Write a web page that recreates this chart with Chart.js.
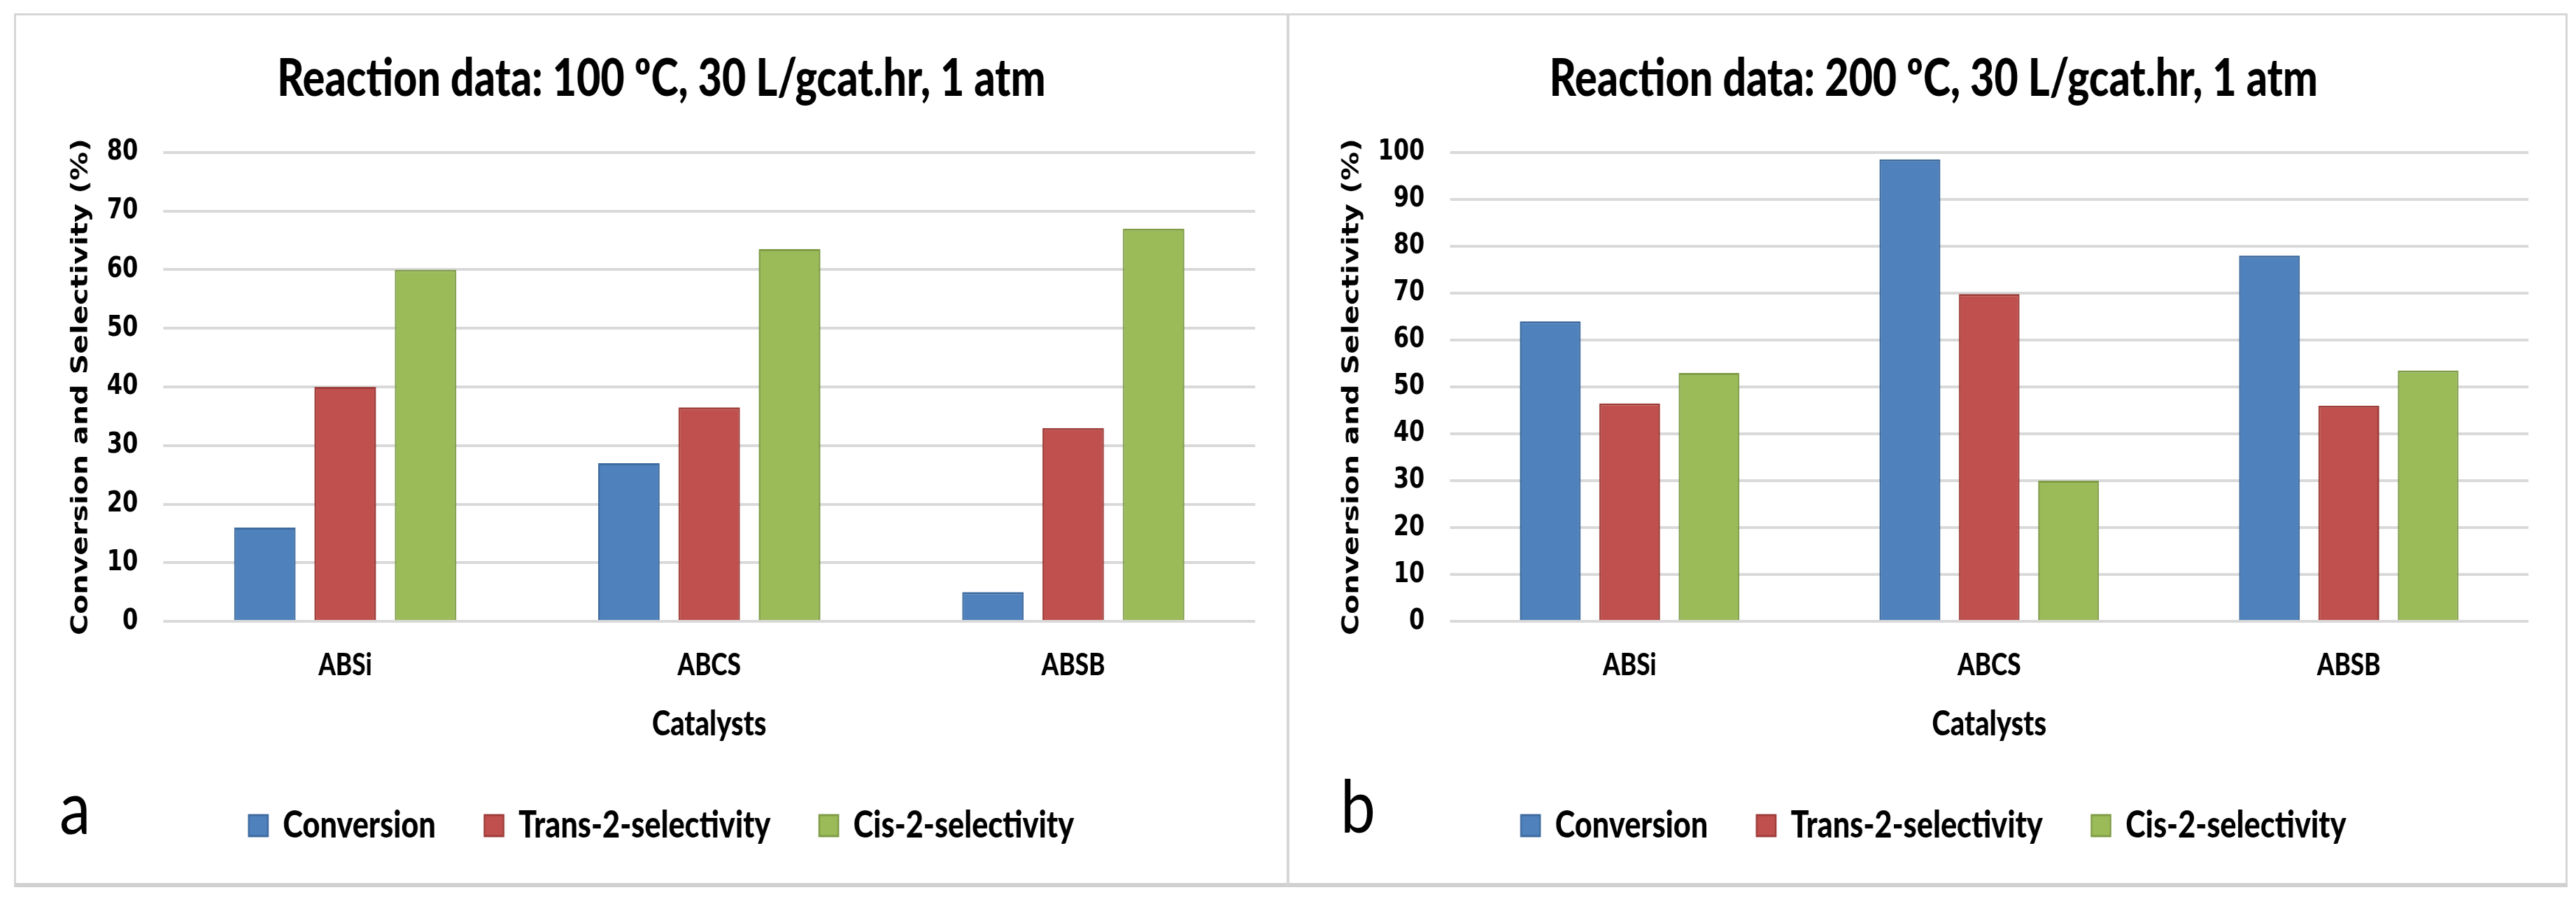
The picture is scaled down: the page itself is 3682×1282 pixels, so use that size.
<!DOCTYPE html>
<html>
<head>
<meta charset="utf-8">
<script src="https://cdn.jsdelivr.net/npm/chart.js@4.4.1/dist/chart.umd.min.js"></script>
<style>
  html, body { margin: 0; padding: 0; background: #fff; }
  body { width: 3682px; height: 1282px; position: relative; overflow: hidden; }
  .panel { position: absolute; top: 19px; height: 1249px; border: 3px solid #d6d6d6; border-bottom: 6px solid #d0d0d0; box-sizing: border-box; background: #fff; }
  .panel canvas { position: absolute; left: 0; top: 0; }
  .letter { position: absolute; font-family: Lato, "Open Sans", sans-serif; font-size: 105px; line-height: 1; color: #000; transform: scaleX(0.85); transform-origin: left top; }
</style>
</head>
<body>
<!-- the source figure is squeezed horizontally, so each canvas is drawn 25% wider and shown at 80% width -->
<div class="panel" style="left:20px; width:1822px;">
  <canvas id="chartA" width="2270" height="1240" style="width:1816px; height:1240px;"></canvas>
  <div class="letter" style="left:62px; top:1077px;">a</div>
</div>
<div class="panel" style="left:1840px; width:1830px;">
  <canvas id="chartB" width="2280" height="1240" style="width:1824px; height:1240px;"></canvas>
  <div class="letter" style="left:73px; top:1075px;">b</div>
</div>
<script>
const catalysts = ["ABSi", "ABCS", "ABSB"];
const seriesNames = ["Conversion", "Trans-2-selectivity", "Cis-2-selectivity"];

// a: 100 C
const conversion100 = [16, 27, 5];
const trans100 = [40, 36.5, 33];
const cis100 = [60, 63.5, 67];

// b: 200 C
const conversion200 = [64, 98.5, 78];
const trans200 = [46.5, 69.8, 46];
const cis200 = [53, 30, 53.5];

const fills = ["#4f81bd", "#c0504d", "#9bbb59"];
const edges = ["#3d6b9f", "#9e3d3a", "#7f9c46"];

const calibriLike = "Lato, 'Open Sans', sans-serif";
const verdanaLike = "'DejaVu Sans', Verdana, sans-serif";

function makeChart(id, title, values, yMax, padLeft, padRight) {
    const ctx = document.getElementById(id).getContext("2d");
    const datasets = values.map((vals, i) => ({
        label: seriesNames[i],
        data: vals,
        backgroundColor: fills[i],
        borderColor: edges[i],
        borderWidth: 3,
        categoryPercentage: 0.662,
        barPercentage: 0.765
    }));
    // note: chart.js counts tick padding twice when it sizes an axis,
    // hence the negative title paddings below
    return new Chart(ctx, {
        type: "bar",
        data: { labels: catalysts, datasets: datasets },
        options: {
            responsive: false,
            animation: false,
            devicePixelRatio: 1,
            layout: { padding: { left: padLeft, right: padRight, top: 0, bottom: 45 } },
            plugins: {
                title: {
                    display: true,
                    text: title,
                    color: "#000",
                    font: { family: calibriLike, size: 74, weight: "900" },
                    padding: { top: 47, bottom: 60 }
                },
                legend: {
                    position: "bottom",
                    labels: {
                        color: "#000",
                        font: { family: calibriLike, size: 54, weight: "900" },
                        boxWidth: 34,
                        boxHeight: 30,
                        padding: 87
                    }
                },
                tooltip: { enabled: false }
            },
            scales: {
                x: {
                    grid: { display: false, drawTicks: false },
                    border: { display: false },
                    ticks: { color: "#000", font: { family: calibriLike, size: 44, weight: "900" }, padding: 36 },
                    title: {
                        display: true,
                        text: "Catalysts",
                        color: "#000",
                        font: { family: calibriLike, size: 50, weight: "900" },
                        padding: { top: -8, bottom: 1 }
                    }
                },
                y: {
                    min: 0,
                    max: yMax,
                    ticks: { stepSize: 10, color: "#000", font: { family: verdanaLike, size: 40, weight: "bold" }, padding: 45 },
                    grid: { color: "#d9d9d9", lineWidth: 4, drawTicks: false },
                    border: { display: false },
                    title: {
                        display: true,
                        text: "Conversion and Selectivity (%)",
                        color: "#000",
                        font: { family: verdanaLike, size: 41, weight: "bold" },
                        padding: { top: 0, bottom: -24 }
                    }
                }
            }
        }
    });
}

makeChart("chartA", "Reaction data: 100 ºC, 30 L/gcat.hr, 1 atm", [conversion100, trans100, cis100], 80, 92, 56);
makeChart("chartB", "Reaction data: 200 ºC, 30 L/gcat.hr, 1 atm", [conversion200, trans200, cis200], 100, 88, 66);
</script>
</body>
</html>
